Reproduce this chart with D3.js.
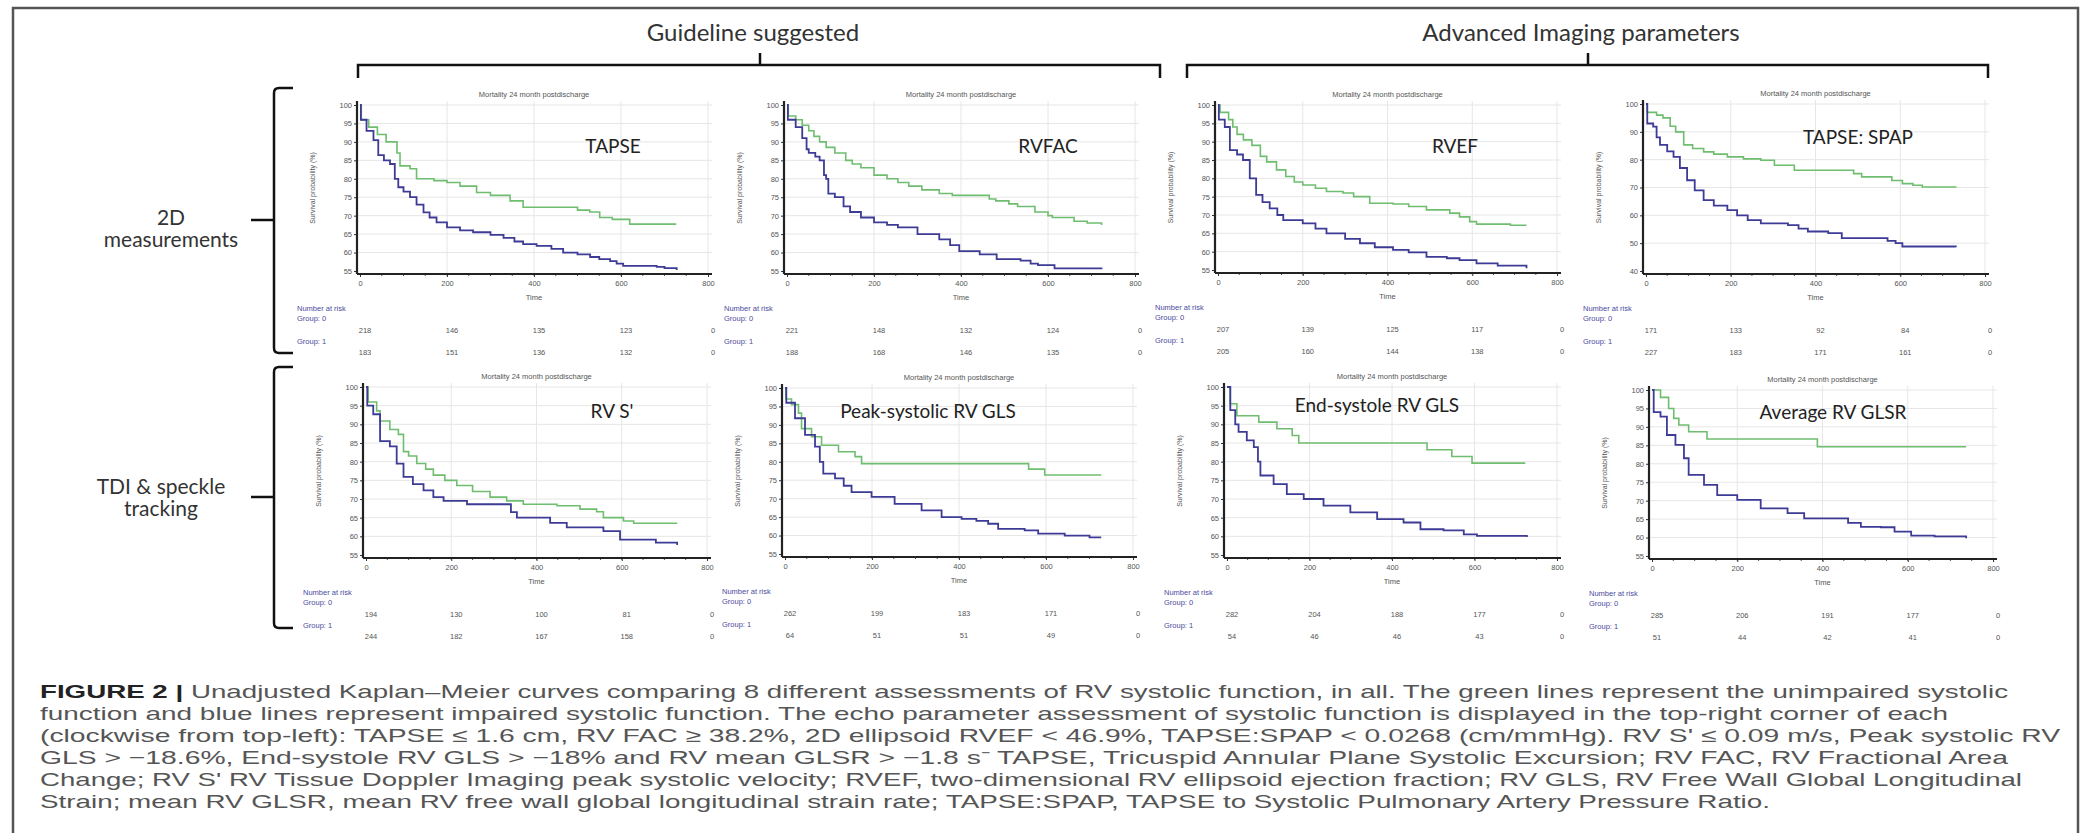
<!DOCTYPE html>
<html>
<head>
<meta charset="utf-8">
<script src="https://cdn.jsdelivr.net/npm/d3@7"></script>
<style>
  body { margin: 0; background: #fff; }
</style>
</head>
<body>
<div id="chart"></div>
<script>
// ---- data ----
var timeTicks = [0, 200, 400, 600, 800];
var yTicksFive = [55, 60, 65, 70, 75, 80, 85, 90, 95, 100];
var yTicksTen = [40, 50, 60, 70, 80, 90, 100];

var panelNames = ["TAPSE", "RVFAC", "RVEF", "TAPSE: SPAP",
                  "RV S'", "Peak-systolic RV GLS", "End-systole RV GLS", "Average RV GLSR"];

// [time, survival %] - green = unimpaired, blue = impaired
var tapseGreen = [[0,100],[3,96],[20,94],[40,92],[60,90],[85,87],[92,83.5],[115,82.7],[130,80],[170,79.5],[200,79],[230,78],[268,76.3],[300,75.5],[345,74],[375,72.3],[452,72.3],[500,71.5],[528,71],[551,69.5],[580,69],[620,67.7],[727,67.7]];
var tapseBlue = [[0,100],[2,96],[15,93],[31,90.5],[42,86.4],[55,85],[69,84],[80,80],[88,77.7],[100,76.5],[115,75],[130,73],[146,70.9],[160,69.5],[176,68.2],[200,66.8],[230,66],[260,65.5],[300,64.8],[330,64],[355,63],[375,62.3],[406,61.8],[440,61],[467,60],[500,59.5],[529,58.8],[550,58.2],[575,57.7],[590,57],[605,56.4],[682,56.1],[700,55.8],[728,55.3]];

var rvfacGreen = [[0,100],[3,97],[20,96],[35,94.5],[50,93],[62,91.5],[75,90],[90,88.5],[110,87],[135,85],[150,84],[170,83],[200,81],[230,80],[255,79],[280,78],[310,77],[350,76],[380,75.5],[450,75.5],[465,74.5],[480,74],[510,73.2],[530,72.5],[570,71],[600,70],[610,69.5],[660,68.5],[690,68],[723,67.5]];
var rvfacBlue = [[0,100],[2,96],[20,94],[35,91],[45,88],[50,87],[65,86],[75,85],[85,81],[90,80],[95,76],[110,75],[130,72.5],[145,71],[170,69.5],[200,68.2],[230,67.5],[255,66.8],[300,65],[350,63.6],[375,62],[396,60.4],[443,59.5],[482,58.2],[537,57.8],[560,57],[577,56.6],[615,55.7],[723,55.5]];

var rvefGreen = [[0,100],[5,98],[25,96],[35,94],[45,92],[60,90.5],[80,89],[100,86],[115,84.5],[138,82.3],[160,80.5],[180,79],[200,78.2],[230,77.3],[256,76.4],[295,76],[320,75],[358,73.2],[413,73],[450,72.3],[492,71.4],[547,70.5],[570,69.5],[594,68.2],[610,67.5],[660,67.5],[690,67.2],[728,67.2]];
var rvefBlue = [[0,100],[2,96],[16,94],[28,87.7],[45,86.5],[59,85],[75,80],[90,75.5],[105,73.5],[122,71.8],[140,70],[154,68.6],[200,67.7],[230,66.3],[256,65],[300,63.5],[335,62.3],[370,61.2],[413,60.5],[450,59.8],[492,58.6],[540,58.2],[570,57.7],[610,56.8],[660,56.2],[728,55.5]];

var spapGreen = [[0,100],[3,97],[25,96],[40,95],[57,92],[70,90],[89,85.3],[110,84],[136,82.8],[160,82],[192,81],[230,80.3],[271,79.8],[303,78],[350,76.2],[469,76.2],[490,75],[509,73.8],[549,73.8],[580,72.5],[605,71.4],[630,70.8],[652,70.2],[731,70]];
var spapBlue = [[0,100],[3,93],[17,91.9],[25,88],[33,85.3],[50,83],[65,81],[80,77],[97,72.6],[115,69],[136,65.5],[160,63.5],[192,61.9],[215,60],[240,58.3],[271,57.1],[335,56.5],[360,55.2],[382,54.2],[430,53.6],[462,51.8],[549,51.8],[570,50.8],[589,50],[605,48.8],[700,48.8],[731,48.5]];

var rvsGreen = [[0,100],[5,96],[25,93.6],[33,90.9],[56,88.6],[76,87.3],[88,82.7],[100,81.5],[119,79.5],[140,78],[158,76.4],[185,75],[213,73.6],[250,72],[291,70.5],[330,69.5],[369,68.6],[448,68.2],[502,67.3],[541,66.6],[557,65],[604,64.1],[628,63.5],[730,63.5]];
var rvsBlue = [[0,100],[3,95],[17,92.7],[33,85.5],[56,84.1],[72,79.5],[88,75.9],[110,74],[135,72.3],[158,70.5],[182,69.5],[237,68.6],[315,68.6],[340,66.5],[354,65],[393,65],[432,63.6],[471,62.4],[557,61.4],[596,59.1],[651,59.1],[680,58.3],[730,57.7]];

var peakGreen = [[0,100],[2,97],[15,95.5],[31,93.2],[38,89],[61,86.8],[84,84.5],[123,82.7],[161,81.4],[176,79.5],[551,79.5],[560,78],[597,76.4],[727,76.4]];
var peakBlue = [[0,100],[3,96],[23,91.8],[46,87.3],[69,84.1],[80,80],[88,76.8],[115,75.5],[135,73.5],[153,71.8],[199,70.5],[252,68.6],[314,66.8],[360,65],[406,64.5],[440,64],[467,63.2],[490,61.8],[551,61.4],[582,60.5],[643,60],[700,59.5],[727,59.5]];

var endGreen = [[0,100],[8,95.5],[24,92.3],[77,90.6],[121,88.8],[158,87],[174,85],[485,83.2],[545,81.4],[594,79.6],[723,79.6]];
var endBlue = [[0,100],[8,93.8],[20,90],[28,88],[48,85.7],[65,83.9],[75,80],[81,76.3],[113,74],[145,71.3],[186,70],[234,68.2],[299,66.4],[364,64.6],[428,63.7],[469,61.9],[525,61.6],[574,60.5],[606,60.1],[727,59.8]];

var glsrGreen = [[0,100],[20,98],[39,95],[51,92.3],[63,90.5],[86,88.7],[129,86.7],[388,84.6],[737,84.6]];
var glsrBlue = [[0,100],[4,94],[20,92.8],[35,87.8],[55,85.1],[75,81.5],[86,77],[122,74.3],[153,71.5],[200,70.2],[255,67.9],[318,66.6],[357,65.2],[427,65.2],[460,64],[490,62.9],[537,62.8],[569,61.6],[608,60.5],[663,60.3],[737,59.8]];

// number at risk at 0, 200, 400, 600, 800
var tapseRisk0 = [218, 146, 135, 123, 0],  tapseRisk1 = [183, 151, 136, 132, 0];
var rvfacRisk0 = [221, 148, 132, 124, 0],  rvfacRisk1 = [188, 168, 146, 135, 0];
var rvefRisk0  = [207, 139, 125, 117, 0],  rvefRisk1  = [205, 160, 144, 138, 0];
var spapRisk0  = [171, 133, 92, 84, 0],    spapRisk1  = [227, 183, 171, 161, 0];
var rvsRisk0   = [194, 130, 100, 81, 0],   rvsRisk1   = [244, 182, 167, 158, 0];
var peakRisk0  = [262, 199, 183, 171, 0],  peakRisk1  = [64, 51, 51, 49, 0];
var endRisk0   = [282, 204, 188, 177, 0],  endRisk1   = [54, 46, 46, 43, 0];
var glsrRisk0  = [285, 206, 191, 177, 0],  glsrRisk1  = [51, 44, 42, 41, 0];

var captionLines = [
  "Unadjusted Kaplan\u2013Meier curves comparing 8 different assessments of RV systolic function, in all. The green lines represent the unimpaired systolic",
  "function and blue lines represent impaired systolic function. The echo parameter assessment of systolic function is displayed in the top-right corner of each",
  "(clockwise from top-left): TAPSE \u2264 1.6 cm, RV FAC \u2265 38.2%, 2D ellipsoid RVEF < 46.9%, TAPSE:SPAP < 0.0268 (cm/mmHg). RV S' \u2264 0.09 m/s, Peak systolic RV",
  "GLS > \u221218.6%, End-systole RV GLS > \u221218% and RV mean GLSR > \u22121.8 s\u207B TAPSE, Tricuspid Annular Plane Systolic Excursion; RV FAC, RV Fractional Area",
  "Change; RV S' RV Tissue Doppler Imaging peak systolic velocity; RVEF, two-dimensional RV ellipsoid ejection fraction; RV GLS, RV Free Wall Global Longitudinal",
  "Strain; mean RV GLSR, mean RV free wall global longitudinal strain rate; TAPSE:SPAP, TAPSE to Systolic Pulmonary Artery Pressure Ratio."
];

// ---- layout ----
var w = 2087, h = 833;
var green = "#6fbd6f", blue = "#3d3b95";

// plot frames in pixels: time 0 .. 800 -> x0 .. x1, lowest tick .. 100 -> yb .. yt
var frames = [
  {x0: 360,  x1: 708,  yt: 105, yb: 271, lx: 613,  ly: 147},
  {x0: 787,  x1: 1135, yt: 105, yb: 271, lx: 1048, ly: 147},
  {x0: 1218, x1: 1557, yt: 105, yb: 270, lx: 1455, ly: 147},
  {x0: 1646, x1: 1985, yt: 104, yb: 271, lx: 1858, ly: 138},
  {x0: 366,  x1: 707,  yt: 387, yb: 555, lx: 612,  ly: 412},
  {x0: 785,  x1: 1133, yt: 388, yb: 554, lx: 928,  ly: 412},
  {x0: 1227, x1: 1557, yt: 387, yb: 555, lx: 1377, ly: 406},
  {x0: 1652, x1: 1993, yt: 390, yb: 556, lx: 1833, ly: 413}
];

var panels = [
  {green: tapseGreen, blue: tapseBlue, ticks: yTicksFive, risk0: tapseRisk0, risk1: tapseRisk1},
  {green: rvfacGreen, blue: rvfacBlue, ticks: yTicksFive, risk0: rvfacRisk0, risk1: rvfacRisk1},
  {green: rvefGreen,  blue: rvefBlue,  ticks: yTicksFive, risk0: rvefRisk0,  risk1: rvefRisk1},
  {green: spapGreen,  blue: spapBlue,  ticks: yTicksTen,  risk0: spapRisk0,  risk1: spapRisk1},
  {green: rvsGreen,   blue: rvsBlue,   ticks: yTicksFive, risk0: rvsRisk0,   risk1: rvsRisk1},
  {green: peakGreen,  blue: peakBlue,  ticks: yTicksFive, risk0: peakRisk0,  risk1: peakRisk1},
  {green: endGreen,   blue: endBlue,   ticks: yTicksFive, risk0: endRisk0,   risk1: endRisk1},
  {green: glsrGreen,  blue: glsrBlue,  ticks: yTicksFive, risk0: glsrRisk0,  risk1: glsrRisk1}
];

var svg = d3.select("#chart")
  .append("svg")
  .attr("width", w)
  .attr("height", h)
  .style("font-family", "'Liberation Sans', Arial, sans-serif");

svg.append("rect")
  .attr("x", 0).attr("y", 0).attr("width", w).attr("height", h)
  .style("fill", "#fff");

// outer frame
svg.append("rect")
  .attr("x", 13).attr("y", 8).attr("width", 2065).attr("height", 840)
  .style("fill", "none").style("stroke", "#555").style("stroke-width", 2.5);

function drawPanel(p, f, name) {
  var x = d3.scaleLinear().domain([0, 800]).range([f.x0, f.x1]);
  var y = d3.scaleLinear().domain([p.ticks[0], 100]).range([f.yb, f.yt]);
  var ax = f.x0 - 3, ay = f.yb + 3;
  var g = svg.append("g");

  // grid
  g.append("g").selectAll("line")
    .data(p.ticks.slice(1)).enter().append("line")
      .attr("x1", ax).attr("x2", f.x1 + 4)
      .attr("y1", function(d){ return y(d); }).attr("y2", function(d){ return y(d); })
      .style("stroke", "#e6e6e6");
  g.append("g").selectAll("line")
    .data(timeTicks.slice(1)).enter().append("line")
      .attr("x1", function(d){ return x(d); }).attr("x2", function(d){ return x(d); })
      .attr("y1", f.yt - 4).attr("y2", ay)
      .style("stroke", "#e6e6e6");

  // axes
  var gx = g.append("g")
    .attr("transform", "translate(0," + ay + ")")
    .call(d3.axisBottom(x).tickValues(timeTicks).tickSize(3).tickPadding(4));
  var gy = g.append("g")
    .attr("transform", "translate(" + ax + ",0)")
    .call(d3.axisLeft(y).tickValues(p.ticks).tickSize(3).tickPadding(2));
  [gx, gy].forEach(function(a){
    a.select(".domain").remove();
    a.selectAll("line").style("stroke", "#333");
    a.selectAll("text").style("font-size", "7.5px").style("fill", "#555")
      .style("font-family", "'Liberation Sans', Arial, sans-serif");
  });
  // minor x ticks
  g.append("g").selectAll("line")
    .data(d3.range(50, 800, 50)).enter().append("line")
      .attr("x1", function(d){ return x(d); }).attr("x2", function(d){ return x(d); })
      .attr("y1", ay).attr("y2", ay + 2)
      .style("stroke", "#555");
  g.append("line")
    .attr("x1", ax).attr("x2", f.x1 + 4).attr("y1", ay).attr("y2", ay)
    .style("stroke", "#222").style("stroke-width", 2);
  g.append("line")
    .attr("x1", ax).attr("x2", ax).attr("y1", f.yt - 4).attr("y2", ay)
    .style("stroke", "#222").style("stroke-width", 2.2);

  // texts
  g.append("text")
    .attr("x", (f.x0 + f.x1) / 2).attr("y", f.yt - 8)
    .attr("text-anchor", "middle")
    .style("font-size", "7.5px").style("fill", "#555")
    .text("Mortality 24 month postdischarge");
  g.append("text")
    .attr("transform", "translate(" + (ax - 42) + "," + ((f.yt + f.yb) / 2) + ") rotate(-90)")
    .attr("text-anchor", "middle")
    .style("font-size", "7px").style("fill", "#555")
    .text("Survival probability (%)");
  g.append("text")
    .attr("x", x(400)).attr("y", f.yb + 29)
    .attr("text-anchor", "middle")
    .style("font-size", "7.5px").style("fill", "#555")
    .text("Time");
  g.append("text")
    .attr("x", f.lx).attr("y", f.ly + 6)
    .attr("text-anchor", "middle")
    .style("font-family", "Lato, 'Open Sans', sans-serif")
    .style("font-size", "19px").style("fill", "#222")
    .text(name);

  // curves
  var line = d3.line()
    .x(function(d){ return x(d[0]); })
    .y(function(d){ return y(d[1]); })
    .curve(d3.curveStepAfter);
  g.append("path").datum(p.green).attr("d", line)
    .style("fill", "none").style("stroke", green).style("stroke-width", 1.6);
  g.append("path").datum(p.blue).attr("d", line)
    .style("fill", "none").style("stroke", blue).style("stroke-width", 1.8);

  // number at risk
  var lx = f.x0 - 63;
  var labels = [["Number at risk", 37], ["Group: 0", 47], ["Group: 1", 70]];
  g.append("g").selectAll("text")
    .data(labels).enter().append("text")
      .attr("x", lx).attr("y", function(d){ return f.yb + d[1] + 3; })
      .style("font-size", "7.5px").style("fill", "#4b4ba0")
      .text(function(d){ return d[0]; });
  [[p.risk0, 59], [p.risk1, 81]].forEach(function(r){
    g.append("g").selectAll("text")
      .data(r[0]).enter().append("text")
        .attr("x", function(d, i){ return x(timeTicks[i]) + 5; })
        .attr("y", f.yb + r[1] + 3)
        .attr("text-anchor", "middle")
        .style("font-size", "7.5px").style("fill", "#555")
        .text(function(d){ return d; });
  });
}

panels.forEach(function(p, i){ drawPanel(p, frames[i], panelNames[i]); });

// column brackets
var hfont = "Lato, 'Open Sans', sans-serif";
[[358, 1160, 760, "Guideline suggested"], [1187, 1988, 1588, "Advanced Imaging parameters"]].forEach(function(b){
  svg.append("path")
    .attr("d", "M" + b[0] + ",78 V65 H" + b[1] + " V78 M" + b[2] + ",65 V53")
    .style("fill", "none").style("stroke", "#111").style("stroke-width", 2.5);
  svg.append("text")
    .attr("x", b[2] - 7).attr("y", 41)
    .attr("text-anchor", "middle")
    .style("font-family", hfont).style("font-size", "24px").style("fill", "#333")
    .text(b[3]);
});

// row braces: top, bottom, middle tick, text lines, text x, first baseline
[[88, 353, 220, ["2D", "measurements"], 171, 225], [367, 628, 497, ["TDI & speckle", "tracking"], 161, 494]].forEach(function(b){
  svg.append("path")
    .attr("d", "M293," + b[0] + " H279 Q274," + b[0] + " 274," + (b[0] + 5) +
               " V" + (b[1] - 5) + " Q274," + b[1] + " 279," + b[1] + " H293" +
               " M274," + b[2] + " H251")
    .style("fill", "none").style("stroke", "#111").style("stroke-width", 2.5);
  b[3].forEach(function(t, i){
    svg.append("text")
      .attr("x", b[4]).attr("y", b[5] + i * 22)
      .attr("text-anchor", "middle")
      .style("font-family", hfont).style("font-size", "21px").style("fill", "#333")
      .text(t);
  });
});

// caption
var lineWidths = [1968, 1908, 2020, 1968, 1982, 1730];
captionLines.forEach(function(t, i){
  var txt = svg.append("text")
    .attr("x", 40).attr("y", 698 + i * 22)
    .attr("textLength", lineWidths[i])
    .attr("lengthAdjust", "spacingAndGlyphs")
    .style("font-family", "'Liberation Sans', Arial, sans-serif")
    .style("font-size", "19px").style("fill", "#555");
  if (i === 0) {
    txt.append("tspan").style("font-weight", "bold").style("fill", "#222").text("FIGURE 2 | ");
  }
  txt.append("tspan").text(t);
});
</script>
</body>
</html>
